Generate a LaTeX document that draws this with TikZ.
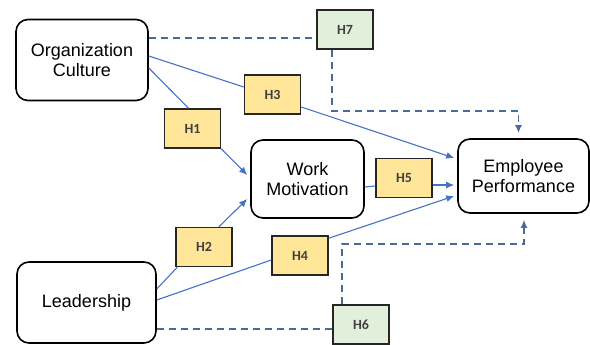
\documentclass[tikz,border=0pt]{standalone}
\usepackage{fontspec}
\setmainfont{Liberation Sans}
\newfontfamily\hfont{Carlito}
\usetikzlibrary{positioning, arrows.meta}

\definecolor{linkblue}{HTML}{4472C4}
\definecolor{dashblue}{HTML}{4A6A9E}
\definecolor{hyellow}{HTML}{FFE699}
\definecolor{hgreen}{HTML}{E2EFDA}

\tikzset{
  var/.style={draw=black, line width=1.6pt, rounded corners=12pt, fill=white,
              align=center, font=\fontsize{18}{20}\selectfont, inner sep=0pt},
  hyp/.style={draw=black!85, line width=1.5pt, minimum width=56pt, minimum height=39pt,
              inner sep=0pt, font=\hfont\bfseries\fontsize{14}{16}\selectfont, text=black!75},
  link/.style={draw=linkblue, line width=1.1pt},
  linkarrow/.style={link, -{Latex[length=8pt,width=7pt]}},
  modline/.style={draw=dashblue, line width=1.6pt, dash pattern=on 7pt off 5pt},
}

\begin{document}
\begin{tikzpicture}[x=1pt, y=-1pt]
        \useasboundingbox (0,0) rectangle (590,345);

        % variables
        \node[var, minimum width=132pt, minimum height=81pt] (oc) at (82,60) {Organization\\Culture};
        \node[var, minimum width=113pt, minimum height=78pt] (wm) at (307.5,179) {Work\\Motivation};
        \node[var, minimum width=131pt, minimum height=74pt] (ep) at (523.5,176) {Employee\\Performance};
        \node[var, minimum width=139pt, minimum height=81pt] (lead) at (86.5,302.5) {Leadership};

        % hypotheses
        \node[hyp, fill=hyellow] (h1) at (192.5,128.5) {H1};
        \node[hyp, fill=hyellow] (h2) at (204,247) {H2};
        \node[hyp, fill=hyellow] (h3) at (272.5,94.5) {H3};
        \node[hyp, fill=hyellow] (h4) at (300,255.5) {H4};
        \node[hyp, fill=hyellow] (h5) at (404,178) {H5};
        \node[hyp, fill=hgreen] (h6) at (361,324.5) {H6};
        \node[hyp, fill=hgreen] (h7) at (345,29.5) {H7};

        % direct effects
        \draw[link] ([yshift=4pt]oc.east) -- ([yshift=7.5pt]h3.west);
        \draw[linkarrow] ([yshift=-12.5pt]h3.east) -- ([xshift=-3pt,yshift=18pt]ep.west);
        \draw[link] ([yshift=-8pt]oc.east) -- ([xshift=-4pt]h1.north);
        \draw[linkarrow] (h1.south east) -- ([xshift=-3pt,yshift=4pt]wm.west);
        \draw[link] ([yshift=13.5pt]lead.east) -- ([xshift=2pt]h2.south west);
        \draw[linkarrow] ([xshift=15pt]h2.north) -- ([xshift=-3pt,yshift=-20pt]wm.west);
        \draw[link] ([yshift=2.5pt]lead.east) -- ([yshift=-4.5pt]h4.west);
        \draw[linkarrow] ([yshift=-3pt]h4.north east) -- ([xshift=-3pt,yshift=-20pt]ep.west);
        \draw[link] ([yshift=-8pt]wm.east) -- ([yshift=-8pt]h5.west);
        \draw[linkarrow] ([yshift=-7pt]h5.east) -- ([xshift=-3pt,yshift=-9pt]ep.west);

        % moderating effects
        \draw[modline] ([yshift=22pt]oc.east) -- ([yshift=22pt]oc.east -| h7.west);
        \draw[modline, -{Latex[length=8pt,width=7pt]}, shorten >=5pt]
            ([xshift=-13pt]h7.south) -- ++(0,61) -| ([xshift=-5pt]ep.north);
        \draw[modline] ([yshift=-26.5pt]lead.east) -- ([yshift=-26.5pt]lead.east -| h6.west);
        \draw[modline, -{Latex[length=8pt,width=7pt]}, shorten >=6pt]
            ([xshift=-19pt]h6.north) -- ++(0,-60) -| ([xshift=0.5pt]ep.south);
\end{tikzpicture}
\end{document}
